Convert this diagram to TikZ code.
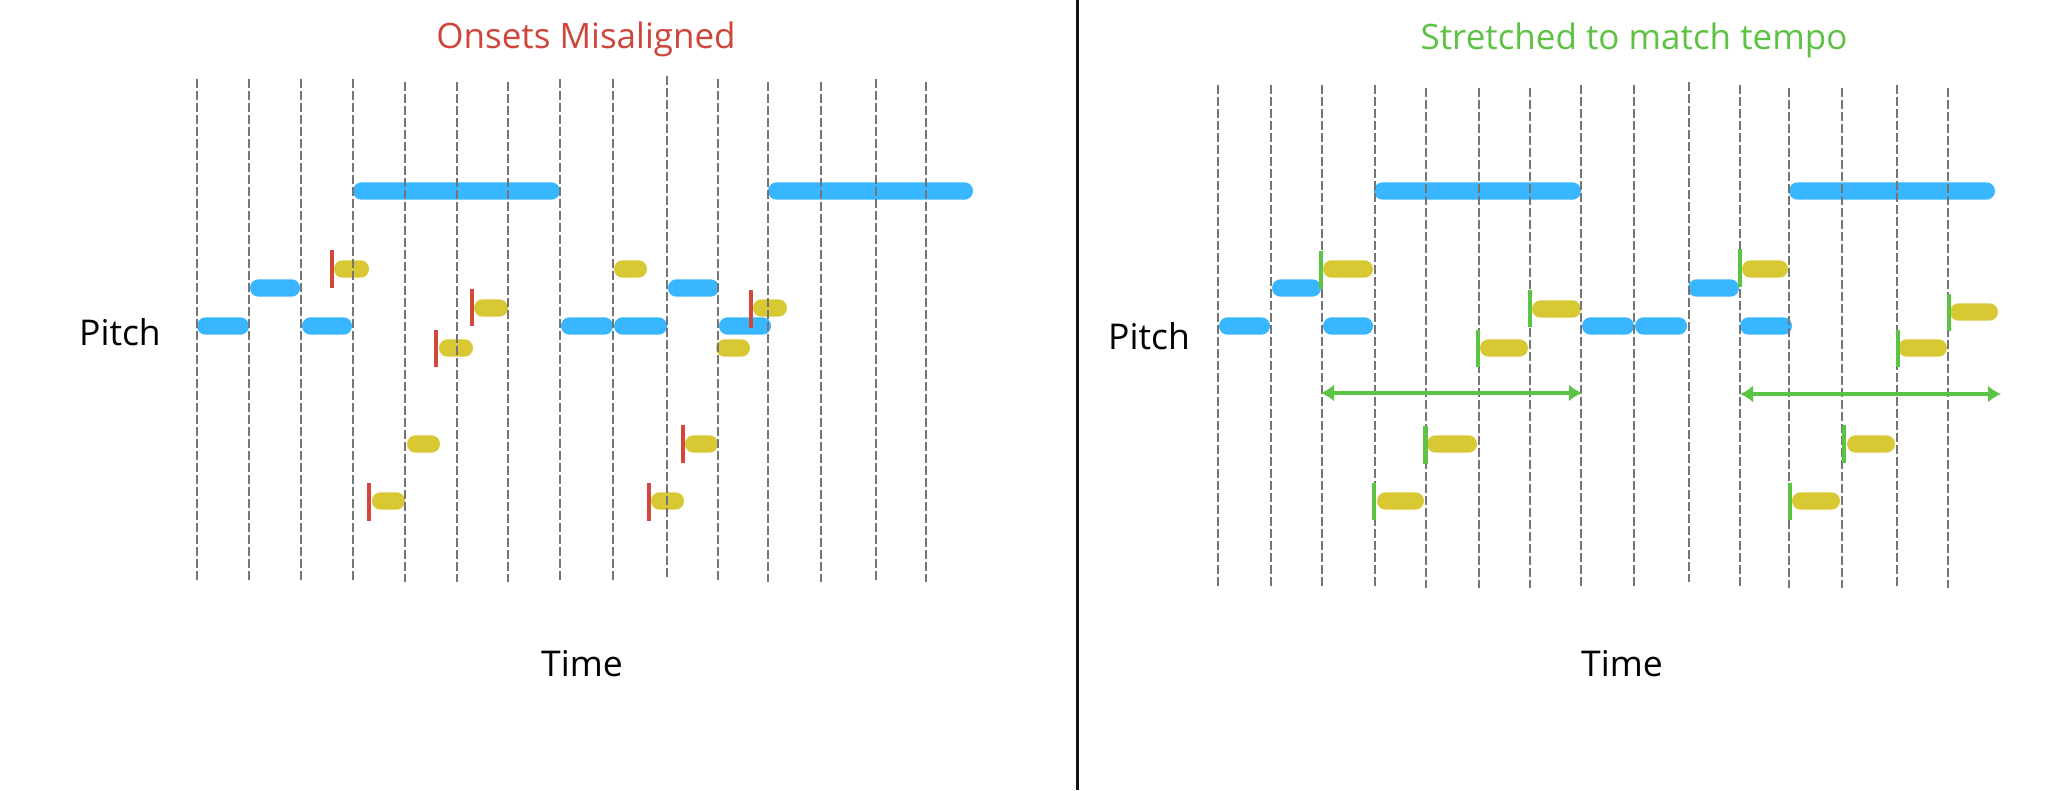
\documentclass[tikz,border=0pt]{standalone}
\usepackage{fontspec}
\setmainfont{Open Sans}
\usetikzlibrary{arrows.meta}
\definecolor{noteblue}{HTML}{38B6FF}
\definecolor{noteyellow}{HTML}{D8C934}
\definecolor{onsetred}{HTML}{D2463B}
\definecolor{onsetgreen}{HTML}{5CC445}
\definecolor{gridgray}{HTML}{757575}
\definecolor{titlered}{HTML}{D0453A}
\definecolor{titlegreen}{HTML}{5DC244}
\newcommand\bnote[3]{\fill[noteblue,rounded corners=8.6pt] (#1,#3-8.7) rectangle (#2,#3+8.7);}
\newcommand\ynote[3]{\fill[noteyellow,rounded corners=8.6pt] (#1,#3-8.7) rectangle (#2,#3+8.7);}
\newcommand\rbar[3]{\fill[onsetred] (#1-2.4,#2) rectangle (#1+2.4,#3);}
\newcommand\gbar[3]{\fill[onsetgreen] (#1-2.4,#2) rectangle (#1+2.4,#3);}
\tikzset{
  gridline/.style={draw=gridgray, line width=2pt, dash pattern=on 9pt off 3pt},
  lbl/.style={font=\fontsize{35.5}{42}\selectfont, text=black, inner sep=0pt, anchor=base},
  ttl/.style={font=\fontsize{35}{42}\selectfont, inner sep=0pt, anchor=base},
  stretcharrow/.style={draw=onsetgreen, line width=3.5pt, {Latex[length=13pt,width=17pt]}-{Latex[length=13pt,width=17pt]}},
}
\begin{document}
\begin{tikzpicture}[x=1pt,y=-1pt]
\useasboundingbox (0,0) rectangle (2048,790);
\fill[white] (0,0) rectangle (2048,790);

% ---------- left panel notes ----------
\bnote{353}{560}{191} \bnote{768}{973}{191}
\bnote{250}{300}{288} \bnote{668}{719}{288}
\bnote{197}{249}{326} \bnote{302}{352}{326} \bnote{561}{613}{326} \bnote{614}{667}{326} \bnote{719}{771}{326}

\ynote{334}{369}{269} \ynote{614}{647}{269}
\ynote{474}{508}{308} \ynote{753}{787}{308}
\ynote{439}{473}{348} \ynote{716}{750}{348}
\ynote{407}{440}{444} \ynote{685}{718}{444}
\ynote{372}{405}{501} \ynote{651}{684}{501}

% ---------- right panel notes ----------
\bnote{1374}{1581}{191} \bnote{1789}{1995}{191}
\bnote{1272}{1321}{288} \bnote{1688}{1739}{288}
\bnote{1219}{1270}{326} \bnote{1323}{1373}{326} \bnote{1582}{1634}{326} \bnote{1635}{1687}{326} \bnote{1740}{1792}{326}

\ynote{1323}{1373}{269} \ynote{1742}{1788}{269}
\ynote{1532}{1581}{309} \ynote{1950}{1998}{312}
\ynote{1480}{1528}{348} \ynote{1898}{1947}{348}
\ynote{1427}{1477}{444} \ynote{1847}{1895}{444}
\ynote{1377}{1424}{501} \ynote{1792}{1840}{501}

% ---------- grid lines ----------
\foreach \x/\t/\b in {197/79/580, 249/79/580, 301/79/580, 353/79/582, 405/82/582, 457/82/582, 508/82/582, 560/79/580, 613/79/580, 667/76/578, 718/79/580, 768/82/582, 821/82/582, 876/79/580, 926/82/582}
  \draw[gridline] (\x,\t) -- (\x,\b);
\foreach \x/\t/\b in {1218/85/586, 1271/85/586, 1322/85/586, 1375/85/588, 1426/88/588, 1479/88/588, 1530/88/588, 1581/85/586, 1634/85/586, 1689/82/582, 1740/85/586, 1789/88/588, 1842/88/588, 1897/85/586, 1948/88/588}
  \draw[gridline] (\x,\t) -- (\x,\b);

% ---------- onset bars ----------
\rbar{332}{250}{288} \rbar{472}{289}{326} \rbar{751}{290}{328} \rbar{436}{330}{367}
\rbar{683}{425}{463} \rbar{369}{483}{521} \rbar{649}{483}{521}

\gbar{1321}{251}{289} \gbar{1740}{249}{287} \gbar{1530}{290}{327} \gbar{1949}{294}{331}
\gbar{1478}{330}{367} \gbar{1898}{330}{367} \gbar{1425.5}{426}{464} \gbar{1844}{425}{463}
\gbar{1374}{483}{520} \gbar{1790}{483}{520}

% ---------- stretch arrows ----------
\coordinate (a1s) at (1321,393);
\coordinate (a1e) at (1582,393);
\coordinate (a2s) at (1740,394);
\coordinate (a2e) at (2001,394);
\draw[stretcharrow] (a1s) -- (a1e);
\draw[stretcharrow] (a2s) -- (a2e);

% ---------- divider ----------
\coordinate (dtop) at (1077.5,0);
\coordinate (dbot) at (1077.5,790);
\draw[draw=black!93, line width=3.5pt] (dtop) -- (dbot);

% ---------- texts ----------
\node[ttl, text=titlered] (t1) at (586,48) {Onsets Misaligned};
\node[ttl, text=titlegreen] (t2) at (1634,49) {Stretched to match tempo};
\node[lbl] (p1) at (120,345) {Pitch};
\node[lbl] (p2) at (1149,349) {Pitch};
\node[lbl] (x1) at (582,676) {Time};
\node[lbl] (x2) at (1622,676) {Time};
\end{tikzpicture}
\end{document}
